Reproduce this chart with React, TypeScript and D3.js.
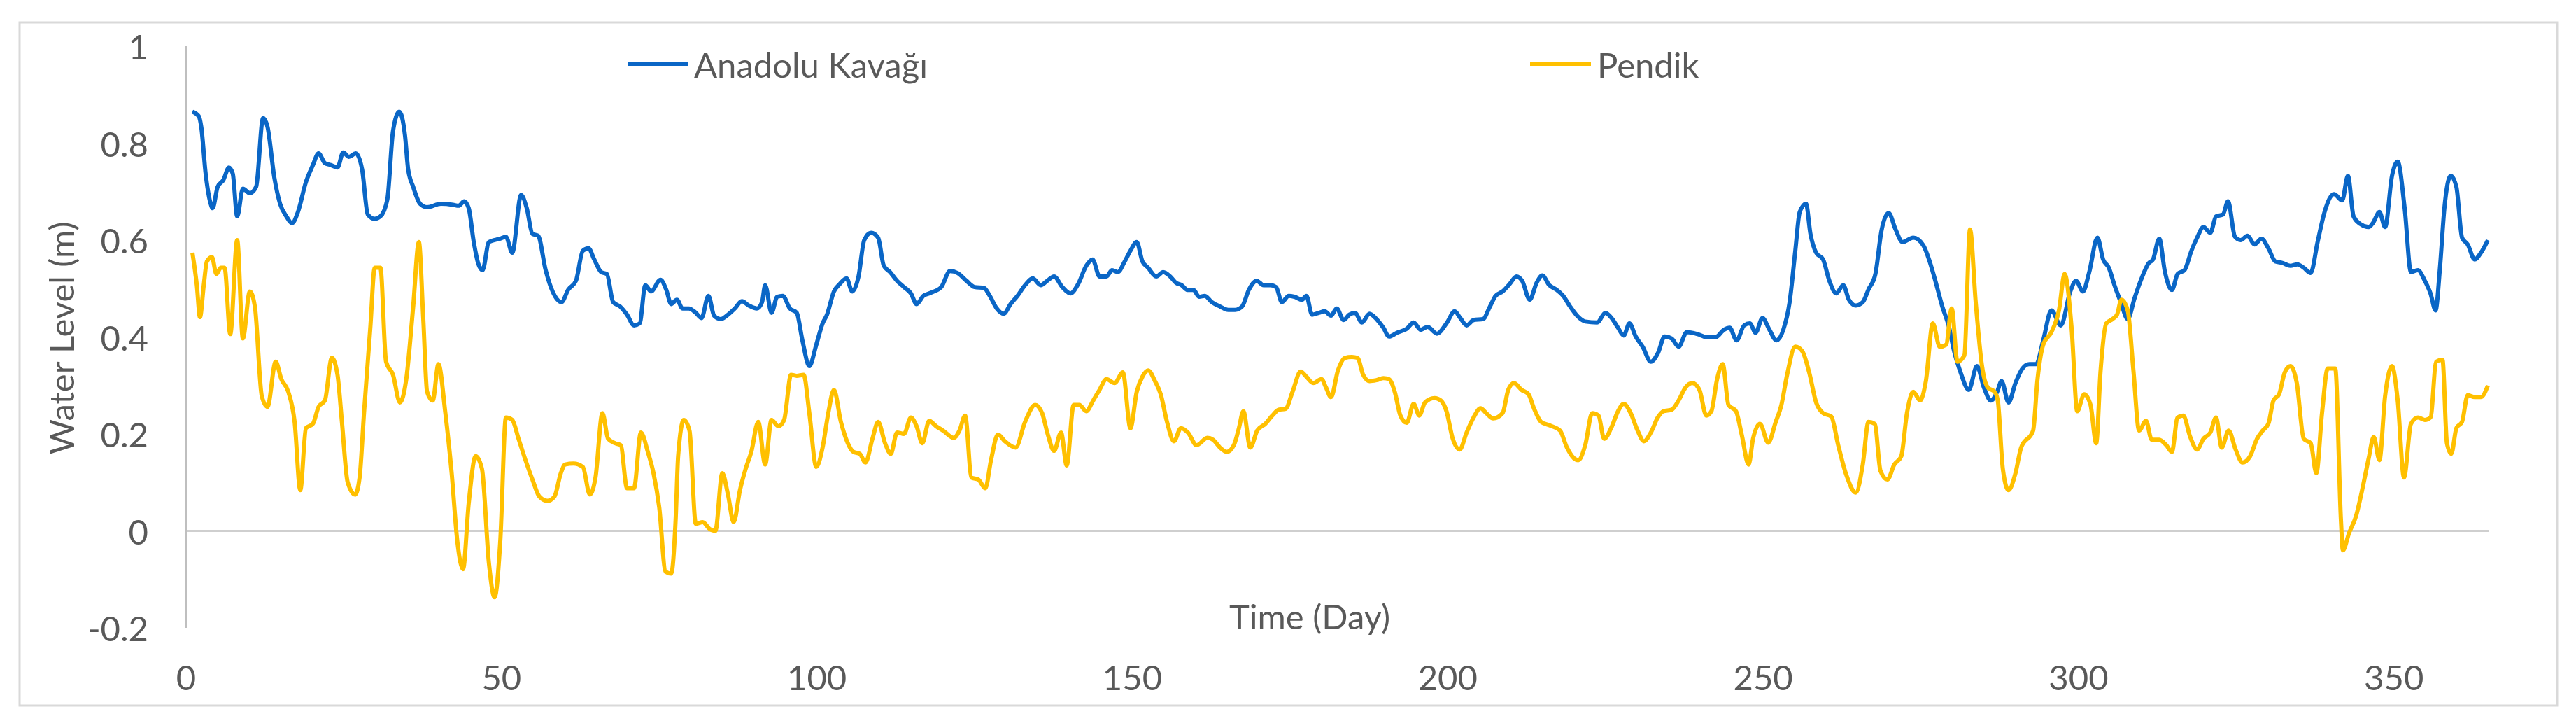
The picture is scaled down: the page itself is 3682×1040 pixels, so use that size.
import React from 'react';
import * as d3 from 'd3';

// Anadolu Kavağı readings (day, level in m)
const anadoluDays = [
  1, 2, 2.4, 3.1, 3.9, 4.2, 5, 5.9, 6.8, 7.4, 8.1, 9, 10.1, 11.1, 12.2, 12.9, 14, 14.9, 15.9, 16.8,
  17.7, 19, 20.1, 21, 22, 22.9, 24, 24.9, 25.8, 26.9, 27.9, 28.8, 29.9, 30.8, 31.9, 32.8, 33.8, 34.7, 35.2, 36,
  37.1, 38.2, 40.4, 42.3, 43.2, 44.1, 44.8, 45.6, 46.3, 47, 48, 49.8, 50.7, 51.7, 53.1, 54, 54.9, 55.8, 57, 58.1,
  59.5, 60.6, 61.8, 62.9, 63.8, 64.7, 65.8, 66.7, 67.7, 68.8, 69.9, 71, 71.9, 72.8, 73.7, 75.2, 76.1, 76.9, 77.8, 78.7,
  79.7, 80.8, 81.7, 82.8, 83.7, 84.8, 85.9, 87, 88.1, 89.2, 90.5, 91.3, 91.8, 92.8, 93.7, 94.6, 95.7, 96.8, 97.7, 98.8,
  99.9, 100.9, 101.6, 102.7, 103.6, 104.7, 105.6, 106.6, 107.5, 108.6, 109.7, 110.6, 111.6, 112.7, 113.8, 114.9, 115.8, 116.9, 118, 119.7,
  121.1, 122.3, 123.7, 125, 126.5, 127.4, 128.5, 129.6, 130.7, 131.8, 133, 134.2, 135.5, 136.5, 137.6, 138.9, 140.2, 141.4, 142.7, 143.7,
  144.8, 145.9, 146.8, 147.7, 148.8, 149.7, 150.7, 151.6, 152.5, 153.8, 154.9, 156, 156.9, 157.8, 158.8, 159.7, 160.6, 161.5, 162.6, 163.9,
  165.2, 166.3, 167.4, 168.5, 169.7, 170.8, 171.9, 172.8, 173.7, 174.8, 175.7, 176.9, 177.6, 178.5, 179.6, 180.5, 181.5, 182.4, 183.5, 184.4,
  185.3, 186.4, 187.6, 188.7, 189.8, 190.7, 192, 193.5, 194.6, 195.7, 196.8, 198.3, 199.8, 201.1, 202, 203, 204.1, 205.6, 206.7, 207.6,
  208.7, 209.8, 210.9, 211.8, 213, 214.1, 215, 216.1, 217.2, 218.3, 219.4, 220.5, 221.8, 223.7, 225, 226.1, 227, 227.9, 228.8, 229.8,
  230.9, 232.2, 233.3, 234.4, 235.5, 236.6, 237.9, 239.6, 241, 242.5, 243.8, 244.7, 245.8, 247, 247.9, 248.8, 249.9, 251, 252.1, 253.2,
  254.2, 255.1, 255.8, 256.8, 257.5, 258.4, 259.5, 260.5, 261.6, 262.7, 263.6, 264.7, 265.8, 266.7, 267.8, 268.8, 269.9, 271, 272.1, 273.8,
  275.4, 276.3, 277.3, 278.4, 279.5, 280.2, 281.3, 282.6, 283.9, 285, 286.1, 287.1, 287.8, 288.9, 290, 291.1, 292.2, 293.3, 294.4, 295.7,
  297.2, 298.7, 299.6, 300.7, 301.7, 303, 303.9, 304.8, 305.7, 306.7, 307.8, 308.9, 310, 311.1, 311.8, 312.8, 313.7, 314.8, 315.7, 316.8,
  317.9, 318.8, 319.8, 320.9, 321.8, 322.9, 323.7, 324.8, 325.7, 326.8, 327.9, 329, 330.1, 331.2, 332.3, 333.6, 334.7, 335.7, 336.8, 337.9,
  339, 340.5, 341.8, 342.7, 343.6, 344.7, 346, 346.7, 347.7, 348.6, 349.7, 350.6, 351.7, 352.7, 353.8, 354.9, 355.8, 356.6, 357.3, 358,
  359, 359.9, 360.8, 361.7, 362.8, 363.8, 364.9,
];
const anadoluLevel = [
  0.865, 0.856, 0.834, 0.737, 0.675, 0.666, 0.71, 0.724, 0.75, 0.737, 0.649, 0.706, 0.697, 0.71, 0.852, 0.834, 0.728, 0.675, 0.649, 0.635,
  0.657, 0.72, 0.755, 0.779, 0.759, 0.755, 0.75, 0.781, 0.772, 0.779, 0.746, 0.653, 0.644, 0.649, 0.684, 0.825, 0.865, 0.816, 0.746, 0.71,
  0.675, 0.668, 0.675, 0.673, 0.671, 0.68, 0.666, 0.596, 0.552, 0.538, 0.596, 0.603, 0.607, 0.574, 0.693, 0.666, 0.613, 0.609, 0.538, 0.494,
  0.472, 0.498, 0.516, 0.578, 0.583, 0.56, 0.534, 0.53, 0.472, 0.463, 0.446, 0.424, 0.428, 0.507, 0.494, 0.518, 0.498, 0.468, 0.477, 0.459,
  0.459, 0.45, 0.439, 0.485, 0.444, 0.437, 0.446, 0.459, 0.474, 0.465, 0.459, 0.472, 0.507, 0.45, 0.483, 0.485, 0.459, 0.45, 0.393, 0.34,
  0.384, 0.428, 0.446, 0.494, 0.509, 0.521, 0.494, 0.525, 0.6, 0.615, 0.605, 0.547, 0.534, 0.516, 0.503, 0.49, 0.468, 0.485, 0.491, 0.503,
  0.536, 0.532, 0.516, 0.503, 0.501, 0.485, 0.459, 0.448, 0.468, 0.485, 0.507, 0.521, 0.507, 0.516, 0.525, 0.503, 0.49, 0.509, 0.547, 0.56,
  0.525, 0.525, 0.538, 0.534, 0.556, 0.578, 0.596, 0.556, 0.543, 0.525, 0.534, 0.525, 0.512, 0.507, 0.497, 0.497, 0.483, 0.485, 0.472, 0.463,
  0.456, 0.456, 0.463, 0.498, 0.516, 0.507, 0.507, 0.503, 0.472, 0.485, 0.483, 0.477, 0.485, 0.446, 0.45, 0.453, 0.444, 0.459, 0.435, 0.446,
  0.45, 0.43, 0.448, 0.437, 0.419, 0.401, 0.409, 0.417, 0.43, 0.415, 0.421, 0.407, 0.428, 0.453, 0.439, 0.424, 0.435, 0.437, 0.463, 0.485,
  0.494, 0.509, 0.525, 0.516, 0.477, 0.512, 0.527, 0.507, 0.498, 0.485, 0.463, 0.444, 0.432, 0.43, 0.45, 0.437, 0.419, 0.403, 0.428, 0.401,
  0.38, 0.349, 0.366, 0.401, 0.397, 0.38, 0.41, 0.406, 0.4, 0.4, 0.415, 0.419, 0.393, 0.424, 0.428, 0.409, 0.439, 0.415, 0.393, 0.415,
  0.472, 0.578, 0.658, 0.675, 0.613, 0.574, 0.56, 0.516, 0.49, 0.507, 0.477, 0.465, 0.472, 0.498, 0.53, 0.622, 0.656, 0.622, 0.596, 0.605,
  0.589, 0.56, 0.516, 0.463, 0.419, 0.375, 0.327, 0.291, 0.34, 0.296, 0.269, 0.287, 0.309, 0.265, 0.305, 0.335, 0.344, 0.344, 0.393, 0.455,
  0.424, 0.494, 0.516, 0.494, 0.534, 0.605, 0.56, 0.543, 0.507, 0.472, 0.437, 0.481, 0.521, 0.552, 0.56, 0.603, 0.534, 0.497, 0.53, 0.538,
  0.578, 0.605, 0.627, 0.615, 0.649, 0.653, 0.68, 0.607, 0.6, 0.609, 0.591, 0.603, 0.583, 0.556, 0.553, 0.547, 0.55, 0.543, 0.532, 0.596,
  0.658, 0.695, 0.682, 0.733, 0.649, 0.633, 0.627, 0.636, 0.658, 0.627, 0.733, 0.762, 0.666, 0.534, 0.538, 0.516, 0.49, 0.455, 0.543, 0.666,
  0.733, 0.71, 0.605, 0.591, 0.56, 0.574, 0.6,
];

// Pendik readings (day, level in m)
const pendikDays = [
  1, 1.7, 2.2, 2.8, 3.3, 4.1, 4.8, 5.5, 6.1, 7, 8.1, 9, 10.1, 10.9, 12, 12.9, 14.2, 15.1, 16.2, 17.2,
  18.1, 19, 20.1, 21, 22, 23.1, 24, 24.7, 25.6, 26.8, 27.5, 28.2, 29.2, 29.9, 30.8, 31.7, 32.8, 33.9, 34.9, 36,
  36.9, 37.6, 38.2, 39.1, 40, 41.1, 42.1, 43, 43.9, 44.8, 45.9, 46.9, 48, 48.9, 49.8, 50.7, 51.7, 52.7, 53.8, 54.9,
  56, 57.3, 58.4, 59.4, 60.1, 61.4, 62.9, 64, 64.9, 66, 66.9, 68, 68.9, 69.9, 71, 72.1, 73.2, 74.1, 75, 76,
  76.9, 77.6, 78, 78.9, 79.8, 80.8, 81.9, 83, 83.9, 85, 85.9, 86.8, 87.8, 88.7, 89.6, 90.7, 91.8, 92.8, 93.9, 94.8,
  95.9, 96.8, 97.9, 98.8, 99.9, 100.9, 101.8, 102.7, 103.8, 104.9, 105.8, 106.8, 107.7, 108.8, 109.7, 110.8, 111.7, 112.7, 113.8, 114.9,
  115.8, 116.7, 117.8, 118.9, 120, 121.7, 122.6, 123.5, 124.5, 125.6, 126.7, 127.6, 128.7, 129.8, 131.5, 133, 134.6, 135.7, 136.6, 137.6,
  138.7, 139.6, 140.7, 141.6, 142.7, 143.8, 144.8, 145.9, 147.2, 148.5, 149.7, 150.7, 151.6, 152.5, 153.6, 154.5, 155.5, 156.6, 157.7, 158.8,
  160.2, 161.9, 162.8, 163.9, 165, 166.1, 166.9, 167.6, 168.7, 169.8, 171.1, 172.2, 173.2, 174.3, 175.4, 176.7, 177.6, 178.7, 180, 180.7,
  181.5, 182.6, 183.7, 184.8, 185.7, 186.6, 187.6, 188.7, 189.8, 190.7, 191.6, 192.5, 193.5, 194.6, 195.5, 196.4, 197.9, 198.9, 199.8, 200.8,
  201.9, 203, 204.1, 205.2, 206.1, 207.2, 208.7, 209.6, 210.5, 211.7, 212.8, 213.7, 214.8, 216.1, 217.8, 218.9, 220, 220.7, 221.8, 222.9,
  223.9, 224.8, 225.9, 227, 227.9, 229, 230.1, 231.1, 232.2, 233.3, 234.2, 235.5, 236.6, 237.7, 238.8, 239.9, 241, 241.8, 242.7, 243.6,
  244.5, 245.7, 246.6, 247.7, 248.4, 249.5, 250.8, 252, 252.9, 253.8, 255.1, 256.2, 257.3, 258.4, 259.5, 260.8, 261.9, 263.2, 264.7, 265.8,
  266.7, 267.7, 268.6, 269.7, 270.8, 271.9, 272.8, 273.8, 274.9, 275.8, 276.9, 278, 279, 279.9, 280.8, 281.9, 282.8, 283.7, 284.7, 285.6,
  286.7, 287.2, 288, 288.9, 290, 290.9, 292.8, 293.5, 294.4, 295.7, 296.9, 297.8, 298.9, 299.8, 300.9, 301.9, 302.8, 303.5, 304.4, 305.4,
  306.1, 306.8, 307.8, 308.7, 309.6, 310.7, 311.6, 312.8, 313.9, 314.8, 315.7, 316.6, 317.7, 318.8, 319.8, 320.9, 321.8, 322.7, 323.8, 324.9,
  326, 327.2, 328.3, 329.2, 330.1, 330.9, 331.8, 332.7, 333.6, 334.6, 335.7, 336.8, 337.7, 338.6, 339.5, 340.7, 341.6, 341.9, 342.9, 344,
  345.1, 346, 346.8, 347.7, 348.6, 349.7, 350.6, 351.6, 352.7, 353.8, 354.9, 355.8, 356.7, 357.7, 358.4, 359.1, 359.9, 360.8, 361.7, 362.8,
  363.8, 364.9,
];
const pendikLevel = [
  0.574, 0.507, 0.441, 0.507, 0.556, 0.565, 0.53, 0.543, 0.543, 0.406, 0.6, 0.397, 0.494, 0.463, 0.278, 0.256, 0.349, 0.313, 0.287, 0.225,
  0.084, 0.212, 0.221, 0.256, 0.269, 0.357, 0.322, 0.225, 0.101, 0.075, 0.11, 0.243, 0.419, 0.543, 0.543, 0.349, 0.322, 0.265, 0.313, 0.463,
  0.596, 0.437, 0.287, 0.269, 0.344, 0.243, 0.119, -0.022, -0.079, 0.057, 0.154, 0.128, -0.066, -0.137, -0.022, 0.234, 0.229, 0.19, 0.146, 0.106,
  0.071, 0.062, 0.071, 0.119, 0.137, 0.139, 0.132, 0.075, 0.11, 0.243, 0.19, 0.181, 0.177, 0.088, 0.088, 0.203, 0.163, 0.119, 0.049, -0.084,
  -0.088, 0.022, 0.154, 0.229, 0.207, 0.015, 0.018, 0.004, 0.0, 0.119, 0.075, 0.018, 0.084, 0.128, 0.163, 0.225, 0.137, 0.229, 0.216, 0.229,
  0.322, 0.32, 0.322, 0.243, 0.132, 0.172, 0.243, 0.291, 0.225, 0.181, 0.163, 0.159, 0.141, 0.19, 0.225, 0.181, 0.159, 0.203, 0.2, 0.234,
  0.216, 0.181, 0.227, 0.216, 0.207, 0.192, 0.207, 0.238, 0.11, 0.106, 0.088, 0.146, 0.199, 0.185, 0.172, 0.225, 0.26, 0.243, 0.199, 0.165,
  0.203, 0.135, 0.26, 0.26, 0.247, 0.269, 0.291, 0.313, 0.305, 0.327, 0.212, 0.287, 0.318, 0.331, 0.309, 0.282, 0.225, 0.185, 0.212, 0.203,
  0.177, 0.192, 0.188, 0.172, 0.163, 0.177, 0.212, 0.247, 0.172, 0.207, 0.221, 0.238, 0.25, 0.252, 0.287, 0.329, 0.318, 0.305, 0.313, 0.296,
  0.276, 0.331, 0.357, 0.359, 0.357, 0.322, 0.309, 0.311, 0.315, 0.313, 0.287, 0.238, 0.223, 0.262, 0.238, 0.265, 0.274, 0.269, 0.247, 0.19,
  0.168, 0.203, 0.234, 0.253, 0.243, 0.232, 0.243, 0.291, 0.305, 0.291, 0.282, 0.252, 0.225, 0.218, 0.207, 0.172, 0.15, 0.146, 0.177, 0.243,
  0.238, 0.19, 0.212, 0.247, 0.262, 0.243, 0.207, 0.185, 0.203, 0.234, 0.247, 0.25, 0.269, 0.296, 0.305, 0.291, 0.238, 0.247, 0.313, 0.344,
  0.26, 0.247, 0.199, 0.137, 0.19, 0.221, 0.182, 0.225, 0.26, 0.322, 0.38, 0.371, 0.327, 0.265, 0.243, 0.236, 0.177, 0.115, 0.079, 0.137,
  0.225, 0.221, 0.124, 0.106, 0.137, 0.154, 0.243, 0.287, 0.269, 0.309, 0.428, 0.38, 0.384, 0.459, 0.349, 0.362, 0.622, 0.472, 0.34, 0.296,
  0.287, 0.269, 0.128, 0.084, 0.119, 0.172, 0.207, 0.313, 0.384, 0.41, 0.455, 0.53, 0.419, 0.247, 0.282, 0.26, 0.181, 0.331, 0.428, 0.437,
  0.446, 0.477, 0.455, 0.331, 0.207, 0.227, 0.188, 0.188, 0.177, 0.163, 0.234, 0.238, 0.194, 0.168, 0.19, 0.203, 0.234, 0.172, 0.207, 0.168,
  0.141, 0.154, 0.19, 0.207, 0.221, 0.269, 0.282, 0.327, 0.34, 0.305, 0.19, 0.181, 0.119, 0.243, 0.335, 0.335, 0.022, -0.04, -0.004, 0.031,
  0.093, 0.15, 0.194, 0.146, 0.278, 0.34, 0.269, 0.11, 0.221, 0.234, 0.229, 0.234, 0.349, 0.353, 0.181, 0.159, 0.212, 0.225, 0.28, 0.276,
  0.276, 0.3,
];

const yTicks = [-0.2, 0, 0.2, 0.4, 0.6, 0.8, 1];
const xTicks = [0, 50, 100, 150, 200, 250, 300, 350];

const W = 3682;
const H = 1040;
const FONT = 'Lato, "Open Sans", sans-serif';
const FS = 49;
const TEXT = '#595959';
const BLUE = '#0a66c6';
const GOLD = '#ffc000';

// Excel-style tick text: plain hyphen for negatives
const fmtTick = (v: number) => String(Math.round(v * 10) / 10);

const App: React.FC = () => {
  const x = d3.scaleLinear().domain([0, 365]).range([266, 3557]);
  const y = d3.scaleLinear().domain([-0.2, 1]).range([897, 66]);

  const line = d3
    .line<[number, number]>()
    .x(d => x(d[0]))
    .y(d => y(d[1]))
    .curve(d3.curveMonotoneX);

  const anadolu = anadoluDays.map((d, i) => [d, anadoluLevel[i]] as [number, number]);
  const pendik = pendikDays.map((d, i) => [d, pendikLevel[i]] as [number, number]);

  return (
    <svg
      width={W}
      height={H}
      style={{ position: 'absolute', left: 0, top: 0, background: '#fff' }}
      fontFamily={FONT}
    >
      <rect x={28} y={32} width={3627} height={976} fill="#fff" stroke="#d9d9d9" strokeWidth={3} />

      {/* axes */}
      <line x1={x(0)} x2={x(0)} y1={y(1)} y2={y(-0.2)} stroke="#bfbfbf" strokeWidth={2.5} />
      <line x1={x(0)} x2={x(365)} y1={y(0)} y2={y(0)} stroke="#bfbfbf" strokeWidth={2.5} />

      {yTicks.map(t => (
        <text key={t} x={212} y={y(t)} textAnchor="end" dominantBaseline="central" fontSize={FS} fill={TEXT}>
          {fmtTick(t)}
        </text>
      ))}
      {xTicks.map(t => (
        <text key={t} x={x(t)} y={967} textAnchor="middle" dominantBaseline="central" fontSize={FS} fill={TEXT}>
          {t}
        </text>
      ))}

      <text x={1872} y={880} textAnchor="middle" dominantBaseline="central" fontSize={FS} fill={TEXT}>
        Time (Day)
      </text>
      <text
        transform={`translate(87,483) rotate(-90)`}
        textAnchor="middle"
        dominantBaseline="central"
        fontSize={FS}
        fill={TEXT}
      >
        Water Level (m)
      </text>

      {/* series */}
      <path d={line(anadolu) ?? ''} fill="none" stroke={BLUE} strokeWidth={6} strokeLinejoin="round" />
      <path d={line(pendik) ?? ''} fill="none" stroke={GOLD} strokeWidth={6} strokeLinejoin="round" />

      {/* legend */}
      <line x1={898} x2={983} y1={92} y2={92} stroke={BLUE} strokeWidth={6} />
      <text x={992} y={92} dominantBaseline="central" fontSize={FS} fill={TEXT}>
        Anadolu Kavağı
      </text>
      <line x1={2187} x2={2274} y1={92} y2={92} stroke={GOLD} strokeWidth={6} />
      <text x={2283} y={92} dominantBaseline="central" fontSize={FS} fill={TEXT}>
        Pendik
      </text>
    </svg>
  );
};

export default App;
